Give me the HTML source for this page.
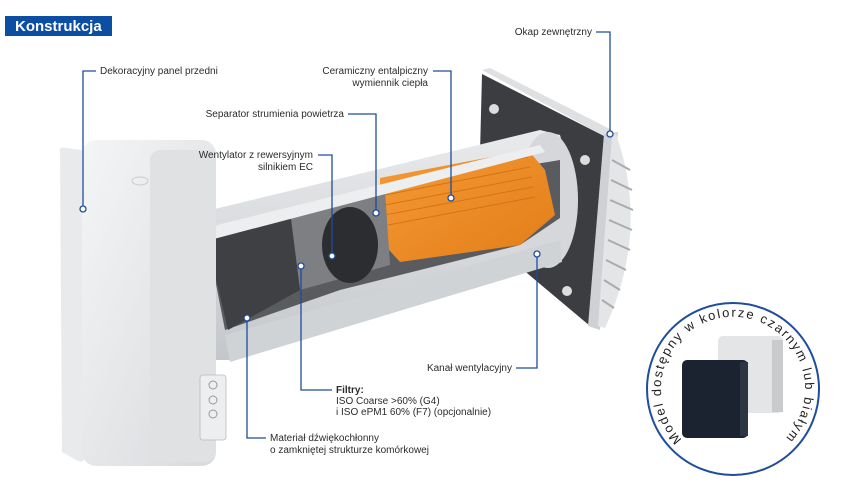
<!DOCTYPE html>
<html><head><meta charset="utf-8"><style>
html,body{margin:0;padding:0;background:#fff;}
svg{display:block;}
text{font-family:"Liberation Sans",sans-serif;font-size:10px;fill:#2b2b2b;}
</style></head><body>
<svg width="843" height="494" viewBox="0 0 843 494" xmlns="http://www.w3.org/2000/svg">
<defs>
<linearGradient id="tube" x1="0" y1="0" x2="0" y2="1">
<stop offset="0" stop-color="#e9eaec"/><stop offset="0.5" stop-color="#d7d9dc"/><stop offset="1" stop-color="#c3c6ca"/>
</linearGradient>
<linearGradient id="panel" x1="0" y1="0" x2="1" y2="1">
<stop offset="0" stop-color="#f4f5f6"/><stop offset="1" stop-color="#d8dadd"/>
</linearGradient>
<linearGradient id="orng" x1="0" y1="0" x2="1" y2="1">
<stop offset="0" stop-color="#f59a36"/><stop offset="1" stop-color="#e27d17"/>
</linearGradient>
</defs>
<rect x="5" y="16" width="107" height="20" fill="#0b4ea2"/>
<text x="15" y="31" style="font-size:15px;font-weight:bold;fill:#fff">Konstrukcja</text>

<!-- right flange -->
<polygon points="482,74 606,137 590,326 478,232" fill="#3c3d40"/>
<polygon points="482,70 490,68 612,130 606,137" fill="#dfe0e2"/>
<polygon points="604,134 618,132 600,330 588,326" fill="#cfd1d4"/>
<path d="M616,134 Q650,230 605,328 L598,326 L612,136 Z" fill="#e4e5e7"/>
<g stroke="#a8abaf" stroke-width="2">
<line x1="612" y1="160" x2="630" y2="170"/><line x1="611" y1="180" x2="632" y2="190"/><line x1="610" y1="200" x2="633" y2="210"/><line x1="609" y1="220" x2="632" y2="230"/><line x1="608" y1="240" x2="630" y2="250"/><line x1="606" y1="260" x2="626" y2="270"/><line x1="604" y1="280" x2="620" y2="290"/><line x1="602" y1="300" x2="614" y2="308"/>
</g>
<circle cx="494" cy="109" r="5" fill="#ddd"/><circle cx="585" cy="160" r="5" fill="#ddd"/><circle cx="567" cy="291" r="5" fill="#ddd"/>

<!-- tube -->
<polygon points="190,215 540,130 560,135 578,200 560,262 230,360 215,360" fill="url(#tube)"/>
<ellipse cx="548" cy="200" rx="30" ry="68" fill="#d5d7da"/>
<polygon points="205,228 380,190 560,160 560,218 520,245 340,290 225,330" fill="#5a5b5e"/>
<polygon points="380,178 528,150 545,170 555,215 520,245 400,262 380,240" fill="url(#orng)"/>
<g stroke="#c96a10" stroke-width="1" opacity="0.7">
<line x1="385" y1="185" x2="528" y2="157"/><line x1="385" y1="195" x2="530" y2="167"/><line x1="385" y1="205" x2="532" y2="177"/><line x1="385" y1="215" x2="533" y2="187"/><line x1="388" y1="225" x2="535" y2="197"/>
</g>
<polygon points="290,210 385,190 390,265 300,290" fill="#7d7f83"/>
<ellipse cx="350" cy="245" rx="28" ry="38" fill="#2c2d30"/>
<polygon points="205,232 290,212 300,290 228,330" fill="#3f4043"/>
<polygon points="205,228 540,145 545,152 210,240" fill="#eceef0"/>
<polygon points="225,335 560,240 562,262 230,362" fill="#d0d3d6"/>

<!-- front panel -->
<path d="M60,152 Q58,146 66,148 L82,150 L84,458 Q84,464 76,460 L62,452 Z" fill="#e9eaec"/>
<rect x="82" y="140" width="134" height="326" rx="14" fill="url(#panel)"/>
<rect x="150" y="150" width="66" height="312" rx="10" fill="#dfe1e3"/>
<ellipse cx="140" cy="181" rx="8" ry="4" fill="none" stroke="#c9cbce"/>
<rect x="200" y="375" width="26" height="65" rx="3" fill="#eceef0" stroke="#b8bbbe" stroke-width="0.8"/>
<circle cx="213" cy="385" r="4" fill="none" stroke="#999"/><circle cx="213" cy="400" r="4" fill="none" stroke="#999"/><circle cx="213" cy="414" r="4" fill="none" stroke="#999"/>

<!-- callouts -->
<g stroke="#1d4d9c" stroke-width="1.3" fill="none">
<polyline points="96,71 83,71 83,209"/>
<polyline points="433,71 451,71 451,198"/>
<polyline points="348,114 376,114 376,213"/>
<polyline points="318,155 332,155 332,256"/>
<polyline points="596,32 610,32 610,134"/>
<polyline points="516,368 537,368 537,254"/>
<polyline points="301,266 301,390 332,390"/>
<polyline points="247,318 247,438 266,438"/>
</g>
<g stroke="#1d4d9c" stroke-width="1.3" fill="#fff">
<circle cx="83" cy="209" r="3"/><circle cx="451" cy="198" r="3"/><circle cx="376" cy="213" r="3"/><circle cx="332" cy="256" r="3"/><circle cx="610" cy="134" r="3"/><circle cx="537" cy="254" r="3"/><circle cx="301" cy="266" r="3"/><circle cx="247" cy="318" r="3"/>
</g>
<text x="100" y="74">Dekoracyjny panel przedni</text>
<text x="428" y="74" text-anchor="end">Ceramiczny entalpiczny</text>
<text x="428" y="86" text-anchor="end">wymiennik ciepła</text>
<text x="344" y="117" text-anchor="end">Separator strumienia powietrza</text>
<text x="313" y="158" text-anchor="end">Wentylator z rewersyjnym</text>
<text x="313" y="170" text-anchor="end">silnikiem EC</text>
<text x="592" y="35" text-anchor="end">Okap zewnętrzny</text>
<text x="512" y="371" text-anchor="end">Kanał wentylacyjny</text>
<text x="336" y="393" style="font-weight:bold">Filtry:</text>
<text x="336" y="404">ISO Coarse &gt;60% (G4)</text>
<text x="336" y="415">i ISO ePM1 60% (F7) (opcjonalnie)</text>
<text x="270" y="441">Materiał dźwiękochłonny</text>
<text x="270" y="453">o zamkniętej strukturze komórkowej</text>

<!-- circle badge -->
<circle cx="733" cy="389" r="86" fill="#fff" stroke="#1d4d9c" stroke-width="2"/>
<path id="arc" d="M688,445 A72,72 0 1 1 778,445" fill="none"/>
<text style="font-size:13px;fill:#222"><textPath href="#arc" startOffset="8" textLength="336" lengthAdjust="spacing">Model dostępny w kolorze czarnym lub białym</textPath></text>
<rect x="718" y="336" width="65" height="77" rx="5" fill="#e3e5e7"/>
<rect x="772" y="340" width="11" height="72" fill="#c8cacc"/>
<rect x="682" y="360" width="66" height="78" rx="5" fill="#1c2330"/>
<rect x="740" y="362" width="8" height="74" fill="#2d3442"/>
</svg>
</body></html>
